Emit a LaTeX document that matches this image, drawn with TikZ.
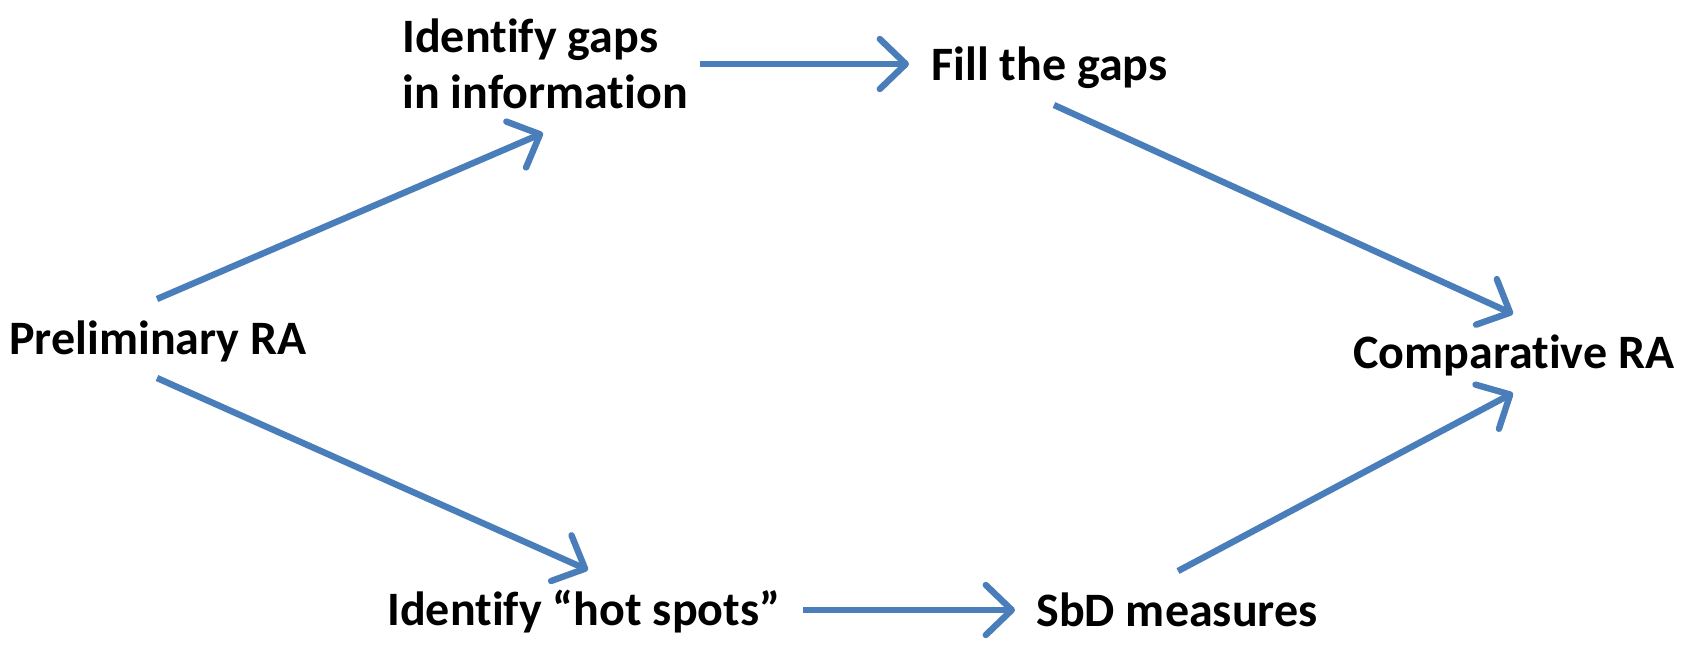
\documentclass[tikz,border=0pt]{standalone}
\usepackage{fontspec}
\setmainfont{Carlito}[Ligatures={NoCommon,NoRare,NoContextual}]
\usetikzlibrary{arrows.meta}
\definecolor{flowblue}{RGB}{74,126,187}
\begin{document}
\begin{tikzpicture}[x=0.5pt,y=-0.5pt,
  label/.style={inner sep=0pt,anchor=base west,align=left,
    font=\fontsize{24}{28}\selectfont\bfseries},
  flow/.style={draw=flowblue,line width=3.2pt,line cap=butt,
    -{Straight Barb[length=13pt,width=25pt,round]}}]
\useasboundingbox (0,0) rectangle (1690,650);

% stages of the assessment (base of a two-line label = its last line)
\node[label] (prelim) at (9,354)    {Preliminary RA};
\node[label] (gaps)   at (402,108)  {Identify gaps\\in information};
\node[label] (fill)   at (931,80)   {Fill the gaps};
\node[label] (hot)    at (387,625)  {Identify “hot spots”};
\node[label] (sbd)    at (1036,626) {SbD measures};
\node[label] (comp)   at (1353,368) {Comparative RA};

% upper branch
\draw[flow] ([shift={(148,-55)}]prelim.base west) -- ([shift={(141,25)}]gaps.base west);
\draw[flow] ([shift={(298,-44)}]gaps.base west) -- ([shift={(-22,-16)}]fill.base west);
\draw[flow] ([shift={(123,25)}]fill.base west) -- ([shift={(160,-54)}]comp.base west);

% lower branch
\draw[flow] ([shift={(148,24)}]prelim.base west) -- ([shift={(201,-55)}]hot.base west);
\draw[flow] ([shift={(416,-15)}]hot.base west) -- ([shift={(-21,-16)}]sbd.base west);
\draw[flow] ([shift={(142,-55)}]sbd.base west) -- ([shift={(160,25)}]comp.base west);
\end{tikzpicture}
\end{document}
